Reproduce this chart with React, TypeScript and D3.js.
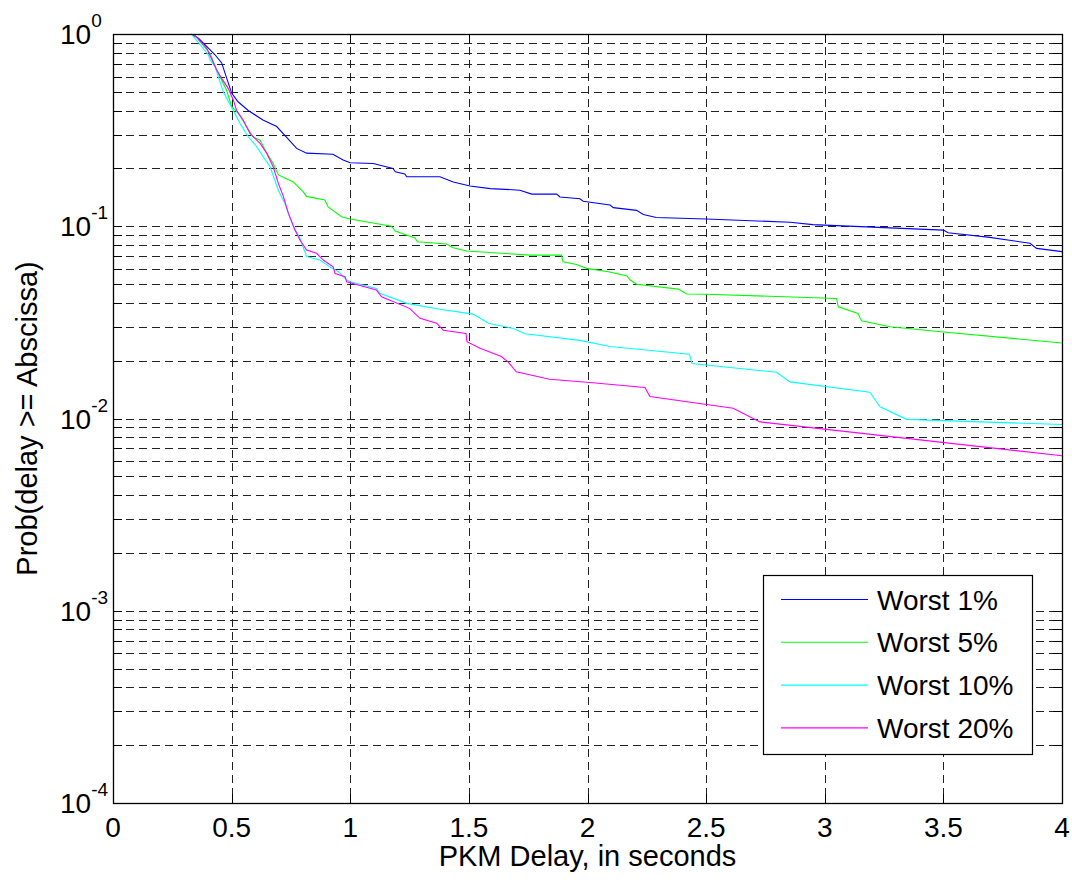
import React, { useEffect, useRef } from 'react';
import * as d3 from 'd3';

// delay in seconds / probability
const worst1X = [0.33, 0.36, 0.40, 0.43, 0.458, 0.5, 0.527, 0.57, 0.632, 0.69, 0.73, 0.774, 0.816, 0.927, 0.97, 1.0, 1.097, 1.18, 1.19, 1.23, 1.238, 1.378, 1.434, 1.505, 1.59, 1.715, 1.765, 1.87, 1.884, 1.968, 1.982, 2.095, 2.109, 2.207, 2.235, 2.29, 2.5, 2.854, 2.95, 3.5, 3.52, 3.696, 3.865, 3.893, 4.0];
const worst1Y = [1.0, 0.95, 0.85, 0.78, 0.707, 0.493, 0.444, 0.40, 0.357, 0.33, 0.292, 0.254, 0.24, 0.237, 0.221, 0.214, 0.212, 0.2, 0.192, 0.187, 0.181, 0.181, 0.17, 0.162, 0.157, 0.154, 0.147, 0.147, 0.142, 0.139, 0.135, 0.129, 0.125, 0.121, 0.115, 0.111, 0.109, 0.105, 0.102, 0.0955, 0.0925, 0.0875, 0.0815, 0.0767, 0.0738];

const worst5X = [0.34, 0.41, 0.437, 0.479, 0.5, 0.528, 0.563, 0.59, 0.62, 0.648, 0.675, 0.697, 0.76, 0.802, 0.816, 0.893, 0.907, 0.963, 1.0, 1.174, 1.19, 1.23, 1.273, 1.283, 1.406, 1.434, 1.49, 1.758, 1.89, 1.897, 1.954, 1.996, 2.088, 2.165, 2.18, 2.207, 2.383, 2.418, 2.5, 3.05, 3.057, 3.14, 3.155, 3.275, 3.5, 4.0];
const worst5Y = [1.0, 0.79, 0.65, 0.51, 0.42, 0.387, 0.33, 0.292, 0.28, 0.24, 0.212, 0.185, 0.17, 0.151, 0.143, 0.137, 0.126, 0.112, 0.109, 0.1, 0.0944, 0.0907, 0.087, 0.083, 0.0808, 0.0773, 0.0743, 0.0708, 0.0708, 0.0654, 0.0633, 0.0604, 0.058, 0.0553, 0.0525, 0.0499, 0.0471, 0.0444, 0.0443, 0.0421, 0.0381, 0.0352, 0.0322, 0.03, 0.0282, 0.0247];

const worst10X = [0.33, 0.402, 0.41, 0.43, 0.444, 0.465, 0.479, 0.507, 0.535, 0.57, 0.605, 0.633, 0.662, 0.697, 0.725, 0.739, 0.76, 0.788, 0.816, 0.872, 0.914, 0.95, 0.985, 1.0, 1.11, 1.125, 1.238, 1.378, 1.518, 1.582, 1.687, 1.737, 1.968, 2.095, 2.43, 2.44, 2.797, 2.854, 3.19, 3.233, 3.345, 4.0];
const worst10Y = [1.0, 0.78, 0.73, 0.676, 0.6, 0.5, 0.463, 0.40, 0.343, 0.292, 0.26, 0.23, 0.204, 0.154, 0.131, 0.117, 0.1, 0.0866, 0.0695, 0.0667, 0.0615, 0.058, 0.0525, 0.0514, 0.0475, 0.0448, 0.0397, 0.037, 0.0349, 0.0313, 0.0294, 0.0276, 0.0255, 0.0237, 0.0216, 0.0193, 0.0174, 0.0155, 0.0137, 0.0115, 0.0099, 0.0093];

const worst20X = [0.34, 0.395, 0.437, 0.458, 0.486, 0.507, 0.521, 0.549, 0.577, 0.62, 0.648, 0.675, 0.697, 0.718, 0.739, 0.767, 0.788, 0.816, 0.858, 0.886, 0.928, 0.936, 0.978, 0.985, 1.11, 1.132, 1.25, 1.294, 1.364, 1.392, 1.488, 1.492, 1.547, 1.637, 1.665, 1.70, 1.84, 2.01, 2.242, 2.263, 2.614, 2.727, 4.0];
const worst20Y = [1.0, 0.843, 0.65, 0.588, 0.52, 0.454, 0.40, 0.357, 0.304, 0.27, 0.24, 0.204, 0.167, 0.143, 0.117, 0.0955, 0.0848, 0.0752, 0.0723, 0.0667, 0.0615, 0.0568, 0.0546, 0.0514, 0.0466, 0.043, 0.0374, 0.0332, 0.0313, 0.0288, 0.0277, 0.0251, 0.0232, 0.021, 0.0197, 0.0175, 0.016, 0.0154, 0.0145, 0.013, 0.0113, 0.0096, 0.0064];

const seriesNames = ['Worst 1%', 'Worst 5%', 'Worst 10%', 'Worst 20%'];
const seriesColors = ['#0000ff', '#00ff00', '#00ffff', '#ff00ff'];
const xTicks = [0, 0.5, 1, 1.5, 2, 2.5, 3, 3.5, 4];
const yExponents = [0, -1, -2, -3, -4];

const FONT = '"Liberation Sans", Arial, sans-serif';

function App() {
  const ref = useRef(null);

  useEffect(() => {
    const svg = d3.select(ref.current);
    svg.selectAll('*').remove();

    const margin = { top: 34, left: 113 };
    const w = 949;
    const h = 769;

    const x = d3.scaleLinear().domain([0, 4]).range([0, w]);
    const y = d3.scaleLog().domain([1e-4, 1]).range([h, 0]);

    const g = svg.append('g').attr('transform', `translate(${margin.left}, ${margin.top})`);

    // minor + major log values
    const yGrid = [];
    for (let e = -4; e < 0; e++) {
      for (let m = 1; m <= 9; m++) yGrid.push(m * Math.pow(10, e));
    }
    const yInner = yGrid.filter(v => v > 1.0001e-4);

    // dashed grid
    g.selectAll('.gy')
      .data(yInner)
      .enter()
      .append('line')
      .attr('x1', 0)
      .attr('x2', w)
      .attr('y1', d => Math.round(y(d)) + 0.5)
      .attr('y2', d => Math.round(y(d)) + 0.5)
      .attr('stroke', '#222')
      .attr('stroke-dasharray', '8,5');

    g.selectAll('.gx')
      .data(xTicks.slice(1, -1))
      .enter()
      .append('line')
      .attr('x1', d => Math.round(x(d)) + 0.5)
      .attr('x2', d => Math.round(x(d)) + 0.5)
      .attr('y1', 0)
      .attr('y2', h)
      .attr('stroke', '#222')
      .attr('stroke-dasharray', '8,5');

    // ticks (inside, all four sides)
    const tl = 9;
    yInner.forEach(v => {
      const py = Math.round(y(v)) + 0.5;
      g.append('line').attr('x1', 0).attr('x2', tl).attr('y1', py).attr('y2', py).attr('stroke', '#000');
      g.append('line').attr('x1', w - tl).attr('x2', w).attr('y1', py).attr('y2', py).attr('stroke', '#000');
    });
    xTicks.forEach(v => {
      const px = Math.round(x(v)) + 0.5;
      g.append('line').attr('x1', px).attr('x2', px).attr('y1', h).attr('y2', h - tl).attr('stroke', '#000');
      g.append('line').attr('x1', px).attr('x2', px).attr('y1', 0).attr('y2', tl).attr('stroke', '#000');
    });

    // curves
    const line = d3
      .line()
      .x(d => x(d[0]))
      .y(d => y(d[1]));
    const allX = [worst1X, worst5X, worst10X, worst20X];
    const allY = [worst1Y, worst5Y, worst10Y, worst20Y];
    allX.forEach((xs, i) => {
      const pts = xs.map((v, j) => [v, allY[i][j]]);
      g.append('path')
        .attr('d', line(pts))
        .attr('fill', 'none')
        .attr('stroke', seriesColors[i])
        .attr('stroke-width', 1.1);
    });

    // axes box
    g.append('rect')
      .attr('x', 0.5)
      .attr('y', 0.5)
      .attr('width', w)
      .attr('height', h)
      .attr('fill', 'none')
      .attr('stroke', '#000')
      .attr('stroke-width', 1.3);

    // x tick labels
    g.selectAll('.xl')
      .data(xTicks)
      .enter()
      .append('text')
      .attr('x', d => x(d))
      .attr('y', h + 34)
      .attr('text-anchor', 'middle')
      .attr('font-family', FONT)
      .attr('font-size', 28)
      .text(d => String(d));

    // y tick labels, 10^e
    yExponents.forEach(e => {
      const py = margin.top + y(Math.pow(10, e));
      const t = svg
        .append('text')
        .attr('x', 60)
        .attr('y', py + 10)
        .attr('font-family', FONT)
        .attr('font-size', 28);
      t.append('tspan').text('10');
      t.append('tspan').attr('dy', -17).attr('font-size', 19).text(String(e));
    });

    // axis titles
    svg
      .append('text')
      .attr('x', margin.left + w / 2)
      .attr('y', 866)
      .attr('text-anchor', 'middle')
      .attr('font-family', FONT)
      .attr('font-size', 29)
      .text('PKM Delay, in seconds');

    svg
      .append('text')
      .attr('transform', `translate(37, ${margin.top + h / 2}) rotate(-90)`)
      .attr('text-anchor', 'middle')
      .attr('font-family', FONT)
      .attr('font-size', 29)
      .text('Prob(delay >= Abscissa)');

    // legend
    const leg = svg.append('g').attr('transform', 'translate(763, 575)');
    leg.append('rect')
      .attr('x', 0.5)
      .attr('y', 0.5)
      .attr('width', 269)
      .attr('height', 179)
      .attr('fill', '#fff')
      .attr('stroke', '#000')
      .attr('stroke-width', 1.2);
    seriesNames.forEach((name, i) => {
      const ry = 24.5 + i * 42.8;
      leg.append('line')
        .attr('x1', 18)
        .attr('x2', 105)
        .attr('y1', ry)
        .attr('y2', ry)
        .attr('stroke', seriesColors[i])
        .attr('stroke-width', 1.1);
      leg.append('text')
        .attr('x', 114)
        .attr('y', ry + 10)
        .attr('font-family', FONT)
        .attr('font-size', 28)
        .text(name);
    });
  }, []);

  return (
    <div style={{ position: 'absolute', left: 0, top: 0, background: '#fff' }}>
      <svg ref={ref} width={1072} height={884} />
    </div>
  );
}

export default App;
